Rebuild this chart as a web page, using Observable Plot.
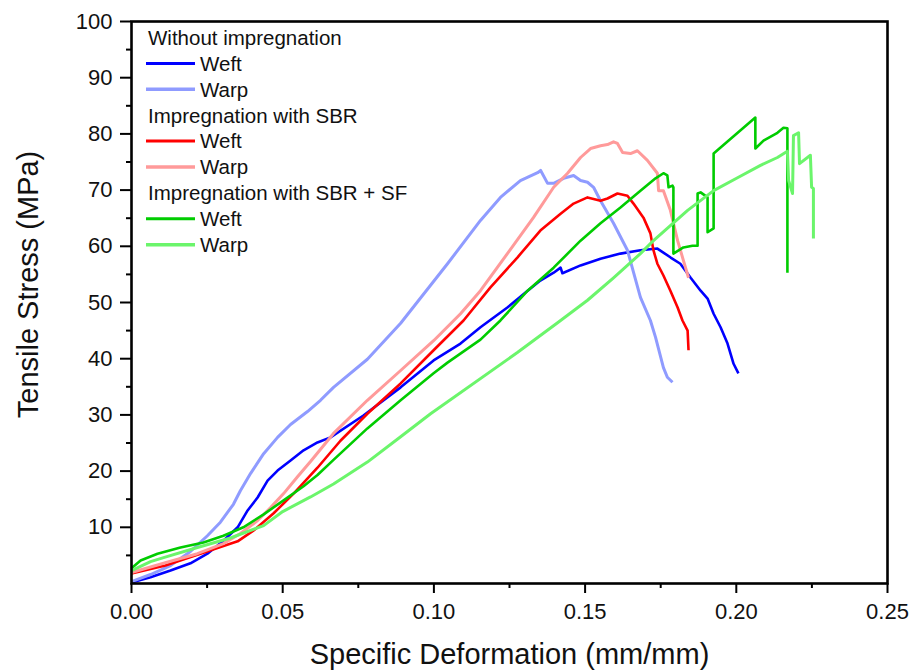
<!DOCTYPE html>
<html>
<head>
<meta charset="utf-8">
<script src="https://cdn.jsdelivr.net/npm/d3@7"></script>
<script src="https://cdn.jsdelivr.net/npm/@observablehq/plot@0.6"></script>
<style>
  html, body { margin: 0; padding: 0; background: #fff; }
  #wrap { position: relative; width: 912px; height: 670px; }
  #legend { position: absolute; left: 0; top: 0; }
</style>
</head>
<body>
<div id="wrap"></div>
<script>
// Specific deformation (mm/mm), tensile stress (MPa)
const noImpWeft = [[0,0.2],[0.0063,1.1],[0.0129,2.3],[0.0195,3.6],[0.0251,5.3],[0.0304,7.6],[0.0351,10.0],[0.0384,13.0],[0.0417,15.3],[0.045,18.3],[0.0483,20.1],[0.0526,21.9],[0.0569,23.7],[0.0615,25.1],[0.0658,26.0],[0.0767,29.9],[0.089,34.9],[0.0999,39.7],[0.1088,42.7],[0.1154,45.6],[0.1243,49.1],[0.131,52.1],[0.1352,53.9],[0.1396,55.3],[0.1419,56.2],[0.1425,55.2],[0.1485,56.6],[0.1551,57.8],[0.1617,58.7],[0.1683,59.3],[0.1739,59.6],[0.1783,58.0],[0.1815,56.9],[0.1849,54.4],[0.1882,52.1],[0.1905,50.7],[0.1925,48.0],[0.1948,45.6],[0.1971,42.7],[0.1991,39.1],[0.2007,37.4]];
const noImpWarp = [[0,0.35],[0.0063,1.6],[0.0129,3.2],[0.0195,5.7],[0.0251,8.5],[0.0294,10.9],[0.0337,14.1],[0.036,16.5],[0.0394,19.6],[0.0437,23.1],[0.0483,26.0],[0.0526,28.3],[0.0582,30.6],[0.0625,32.6],[0.0668,34.9],[0.078,39.9],[0.089,46.3],[0.1045,56.9],[0.1154,64.6],[0.122,68.7],[0.1286,71.7],[0.1343,73.1],[0.1353,73.5],[0.1376,71.2],[0.1396,71.2],[0.1429,72.1],[0.1462,72.6],[0.1485,71.7],[0.1508,71.4],[0.1528,70.5],[0.1551,68.1],[0.1594,64.1],[0.164,59.3],[0.1683,50.9],[0.1716,46.8],[0.1733,43.8],[0.1759,38.4],[0.1772,36.7],[0.1789,35.8]];
const sbrWeft = [[0,1.8],[0.0112,3.2],[0.0228,5.3],[0.0351,7.5],[0.0403,9.4],[0.047,12.5],[0.0536,16.0],[0.0615,20.6],[0.0691,25.4],[0.078,30.2],[0.089,35.6],[0.0999,41.5],[0.1098,46.8],[0.1187,52.7],[0.1276,58.0],[0.1352,62.8],[0.1419,65.8],[0.1462,67.6],[0.1508,68.7],[0.1551,68.1],[0.1574,68.5],[0.1607,69.4],[0.164,69.0],[0.166,67.6],[0.1693,65.1],[0.1716,62.3],[0.1726,59.3],[0.1739,56.9],[0.1759,54.8],[0.1782,52.1],[0.1806,49.1],[0.1822,46.8],[0.1839,45.0],[0.1842,41.5]];
const sbrWarp = [[0,1.95],[0.0106,3.6],[0.0218,5.3],[0.0304,7.1],[0.036,8.9],[0.0417,11.2],[0.046,13.5],[0.0503,16.0],[0.0549,19.0],[0.0592,21.7],[0.0668,26.7],[0.078,32.6],[0.089,37.9],[0.0999,43.2],[0.1088,48.0],[0.1154,52.1],[0.1243,58.7],[0.1329,65.1],[0.1396,70.5],[0.1442,73.0],[0.1485,75.8],[0.1518,77.4],[0.1551,77.9],[0.1574,78.1],[0.1594,78.6],[0.1607,78.3],[0.1624,76.7],[0.165,76.5],[0.1673,77.0],[0.1706,75.3],[0.1739,73.0],[0.1743,69.9],[0.1759,69.9],[0.1782,66.4],[0.1806,61.0],[0.1825,57.5],[0.1842,54.4]];
const sbrSfWeft = [[0,2.7],[0.003,4.1],[0.0086,5.3],[0.0162,6.4],[0.0238,7.3],[0.0304,8.5],[0.037,10.0],[0.0437,12.3],[0.0503,14.8],[0.0569,17.3],[0.0615,19.3],[0.0668,22.0],[0.078,27.6],[0.089,32.6],[0.0999,37.4],[0.1045,39.3],[0.1154,43.4],[0.122,46.8],[0.131,52.1],[0.1396,56.2],[0.1485,61.0],[0.1551,64.1],[0.1617,66.9],[0.1683,69.9],[0.1733,72.1],[0.1759,73.0],[0.1772,72.6],[0.1776,70.5],[0.1789,70.8],[0.1792,70.5],[0.1792,58.7],[0.1825,59.8],[0.1855,60.1],[0.1872,60.1],[0.1872,69.4],[0.1882,69.6],[0.1905,68.7],[0.1905,62.5],[0.1925,63.2],[0.1925,76.5],[0.2063,82.9],[0.2063,77.4],[0.209,78.8],[0.2136,80.2],[0.2156,81.1],[0.2169,81.0],[0.2169,55.3]];
const sbrSfWarp = [[0,2.3],[0.0063,3.9],[0.0106,4.6],[0.0218,6.4],[0.0327,8.1],[0.0437,10.3],[0.05,12.8],[0.0592,15.4],[0.0668,17.7],[0.078,21.6],[0.089,26.1],[0.0989,30.2],[0.1276,41.1],[0.1409,46.4],[0.1508,50.4],[0.1594,54.4],[0.1683,58.7],[0.1726,61.0],[0.1839,66.4],[0.1925,69.9],[0.2004,72.2],[0.208,74.4],[0.2136,75.8],[0.2169,76.9],[0.2173,71.7],[0.2186,69.4],[0.2189,79.7],[0.2206,80.2],[0.2209,74.7],[0.2245,76.2],[0.2249,70.5],[0.2255,70.3],[0.2255,61.4]];

const xTicks = [0, 0.05, 0.10, 0.15, 0.20, 0.25];
const xMinor = [0.025, 0.075, 0.125, 0.175, 0.225];
const yTicks = [10, 20, 30, 40, 50, 60, 70, 80, 90, 100];
const yMinor = [5, 15, 25, 35, 45, 55, 65, 75, 85, 95];

const groups = ["Without impregnation", "Impregnation with SBR", "Impregnation with SBR + SF"];
const seriesNames = ["Weft", "Warp"];
const seriesColors = ["#0000FF", "#8F9BFF", "#FF0000", "#FF9A9A", "#00CC00", "#6BF56B"];
const seriesWidths = [2.6, 3, 2.6, 3, 2.6, 3];
const seriesData = [noImpWeft, noImpWarp, sbrWeft, sbrWarp, sbrSfWeft, sbrSfWarp];

const font = "'Liberation Sans', Arial, Helvetica, sans-serif";

const lineMarks = seriesData.map((s, i) =>
  Plot.line(s, {x: d => d[0], y: d => d[1], stroke: seriesColors[i], strokeWidth: seriesWidths[i], strokeLinejoin: "round", strokeLinecap: "butt"})
);

const chart = Plot.plot({
  width: 912,
  height: 670,
  marginLeft: 131,
  marginRight: 25,
  marginTop: 21,
  marginBottom: 87,
  style: {fontFamily: font, background: "#fff", color: "#111"},
  x: {domain: [0, 0.25], label: null},
  y: {domain: [0, 100], label: null},
  marks: [
    ...lineMarks,
    Plot.axisX(xTicks, {tickSize: 10, tickPadding: 10, fontSize: 22, strokeWidth: 2, stroke: "#000", tickFormat: d3.format(".2f"), label: null}),
    Plot.axisX(xMinor, {tickSize: 5, strokeWidth: 2, stroke: "#000", tickFormat: () => "", label: null}),
    Plot.axisY(yTicks, {tickSize: 11, tickPadding: 8, fontSize: 22, strokeWidth: 2, stroke: "#000", tickFormat: d => String(d), label: null}),
    Plot.axisY(yMinor, {tickSize: 5, strokeWidth: 2, stroke: "#000", tickFormat: () => "", label: null}),
    Plot.frame({stroke: "#000", strokeWidth: 2.6}),
    Plot.text(["Specific Deformation (mm/mm)"], {text: d => d, frameAnchor: "bottom", textAnchor: "middle", lineAnchor: "bottom", dy: 80, fontSize: 29, fill: "#111"}),
    Plot.text(["Tensile Stress (MPa)"], {text: d => d, frameAnchor: "left", textAnchor: "middle", lineAnchor: "bottom", rotate: -90, dx: -93.5, dy: -18, fontSize: 29, fill: "#111"})
  ]
});

const wrap = document.getElementById("wrap");
wrap.appendChild(chart);

// Legend overlay inside the plotting frame (top-left)
const leg = d3.select(wrap).append("svg")
  .attr("id", "legend").attr("width", 912).attr("height", 670)
  .style("pointer-events", "none");
const rowH = 25.9, row0 = 37.5, fs = 20.5;
const rows = [];
groups.forEach((g, gi) => {
  rows.push({type: "head", text: g});
  seriesNames.forEach((n, ni) => rows.push({type: "item", text: n, color: seriesColors[gi * 2 + ni], w: seriesWidths[gi * 2 + ni]}));
});
rows.forEach((r, i) => {
  const cy = row0 + rowH * i;
  if (r.type === "head") {
    leg.append("text").attr("x", 148).attr("y", cy + fs * 0.358)
      .attr("font-family", font).attr("font-size", fs).attr("fill", "#111").text(r.text);
  } else {
    leg.append("line").attr("x1", 146).attr("x2", 195).attr("y1", cy).attr("y2", cy)
      .attr("stroke", r.color).attr("stroke-width", r.w + 0.4);
    leg.append("text").attr("x", 200).attr("y", cy + fs * 0.358)
      .attr("font-family", font).attr("font-size", fs).attr("fill", "#111").text(r.text);
  }
});
</script>
</body>
</html>
